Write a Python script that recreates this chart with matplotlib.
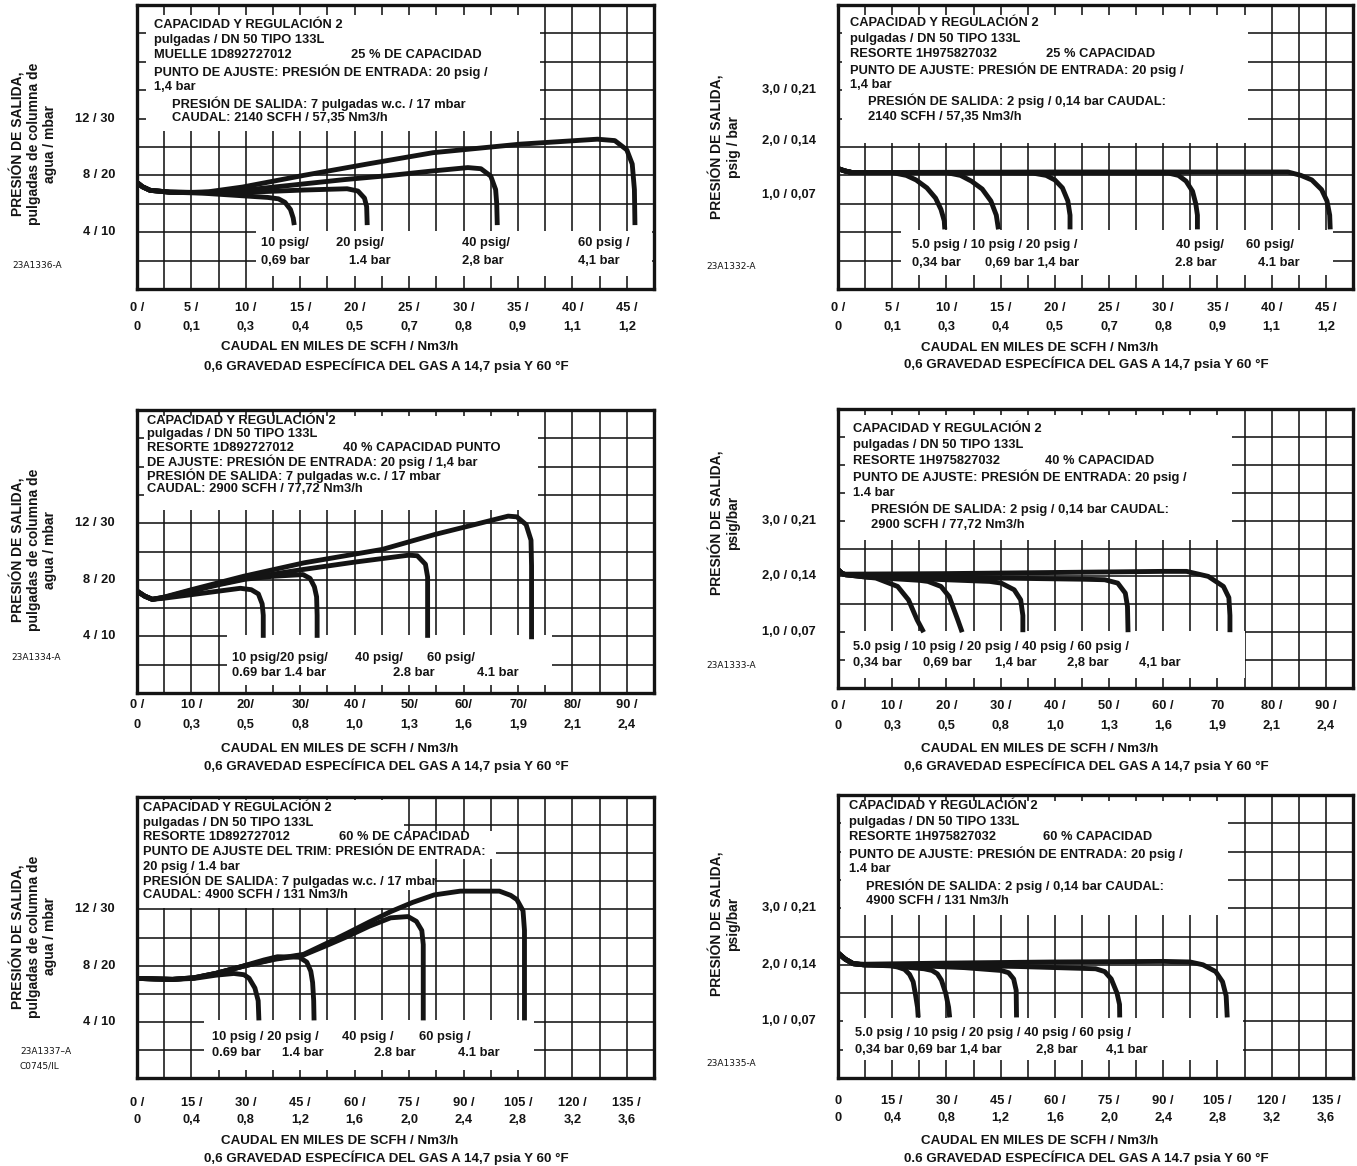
import numpy as np
import matplotlib
matplotlib.use('Agg')
import matplotlib.pyplot as plt
from matplotlib.patches import Rectangle

plt.rcParams['font.family'] = ['Liberation Sans', 'DejaVu Sans']
plt.rcParams['font.weight'] = 'bold'

W, H = 1357, 1166

# ---------------- data ----------------
# x axis ticks (miles de SCFH) and labels (SCFH / Nm3/h)
x45 = [0, 5, 10, 15, 20, 25, 30, 35, 40, 45]
x45_top = ['0 /', '5 /', '10 /', '15 /', '20 /', '25 /', '30 /', '35 /', '40 /', '45 /']
x45_bot = ['0', '0,1', '0,3', '0,4', '0,5', '0,7', '0,8', '0,9', '1,1', '1,2']

x90 = [0, 10, 20, 30, 40, 50, 60, 70, 80, 90]
x90_top_l = ['0 /', '10 /', '20/', '30/', '40 /', '50/', '60/', '70/', '80/', '90 /']
x90_top_r = ['0 /', '10 /', '20 /', '30 /', '40 /', '50 /', '60 /', '70', '80 /', '90 /']
x90_bot = ['0', '0,3', '0,5', '0,8', '1,0', '1,3', '1,6', '1,9', '2,1', '2,4']

x135 = [0, 15, 30, 45, 60, 75, 90, 105, 120, 135]
x135_top_l = ['0 /', '15 /', '30 /', '45 /', '60 /', '75 /', '90 /', '105 /', '120 /', '135 /']
x135_top_r = ['0', '15 /', '30 /', '45 /', '60 /', '75 /', '90 /', '105 /', '120 /', '135 /']
x135_bot = ['0', '0,4', '0,8', '1,2', '1,6', '2,0', '2,4', '2,8', '3,2', '3,6']

# y axis ticks
y_wc = [12, 8, 4]
y_wc_lab = ['12 / 30', '8 / 20', '4 / 10']
y_psig = [3, 2, 1]
y_psig_p2 = [3.5, 2.6, 1.65]   # labels sit off the grid in the original
y_psig_lab = ['3,0 / 0,21', '2,0 / 0,14', '1,0 / 0,07']

# curves, panel 1 (25 %, 7 in w.c.)
p1_10 = [(0, 7.5), (0.5, 7.2), (1.2, 6.95), (3, 6.82), (6, 6.75), (9, 6.6), (12, 6.45), (13, 6.35),
         (13.6, 6.1), (14.1, 5.6), (14.35, 5.0), (14.45, 4.5)]
p1_20 = [(0, 7.5), (0.5, 7.2), (1.2, 6.95), (3, 6.82), (6, 6.78), (9, 6.78), (12, 6.87), (15.3, 6.97),
         (19.3, 7.06), (20.3, 6.9), (20.9, 6.4), (21.1, 5.8), (21.15, 4.5)]
p1_40 = [(0, 7.5), (0.5, 7.2), (1.2, 6.95), (3, 6.82), (6, 6.8), (8.1, 6.85), (11, 7.05), (15.3, 7.4),
         (19, 7.7), (23.3, 8.0), (27, 8.3), (30.4, 8.55), (31.6, 8.47), (32.5, 7.95), (32.95, 7.0),
         (33.05, 6.0), (33.1, 4.5)]
p1_60 = [(0, 7.5), (0.5, 7.2), (1.2, 6.95), (3, 6.82), (5, 6.8), (6.6, 6.85), (9.7, 7.18), (15.3, 8.0),
         (21.3, 8.82), (27.2, 9.6), (35.2, 10.2), (42.3, 10.55), (43.9, 10.45), (45.0, 9.8),
         (45.5, 8.8), (45.7, 7.0), (45.75, 4.5)]

# panel 2 (25 %, 2 psig)
p2_5 = [(0, 2.12), (0.6, 2.08), (1.3, 2.05), (3, 2.05), (5, 2.05), (6.3, 2.0), (7.2, 1.92), (8.2, 1.78),
        (9.0, 1.6), (9.5, 1.4), (9.8, 1.2), (9.85, 1.05)]
p2_10 = [(0, 2.12), (0.6, 2.08), (1.3, 2.05), (5, 2.05), (10, 2.05), (11.3, 2.0), (12.3, 1.9), (13.3, 1.76),
         (14.1, 1.55), (14.6, 1.3), (14.8, 1.05)]
p2_20 = [(0, 2.12), (0.6, 2.08), (1.3, 2.05), (10, 2.05), (18, 2.04), (19.2, 2.0), (20.0, 1.92),
         (20.7, 1.78), (21.2, 1.55), (21.4, 1.3), (21.4, 1.05)]
p2_40 = [(0, 2.12), (0.6, 2.08), (1.3, 2.05), (15, 2.05), (30.5, 2.04), (31.4, 2.0), (32.1, 1.9),
         (32.7, 1.72), (33.0, 1.5), (33.15, 1.3), (33.15, 1.05)]
p2_60 = [(0, 2.12), (0.6, 2.08), (1.3, 2.05), (20, 2.06), (41.5, 2.06), (42.7, 2.0), (43.7, 1.92),
         (44.6, 1.75), (45.1, 1.55), (45.35, 1.3), (45.4, 1.05)]

# panel 3 (40 %, 7 in w.c.)
p3_10 = [(0, 7.2), (1.4, 6.85), (2.8, 6.62), (5, 6.7), (9, 6.9), (14, 7.15), (19, 7.4), (21, 7.3),
         (22.3, 7.0), (23.0, 6.3), (23.2, 5.5), (23.2, 3.9)]
p3_20 = [(0, 7.2), (1.4, 6.85), (2.8, 6.62), (5, 6.75), (10, 7.2), (15, 7.65), (20, 8.05), (25, 8.25),
         (30.5, 8.37), (31.8, 8.1), (32.6, 7.5), (33.0, 6.8), (33.1, 5.5), (33.1, 3.9)]
p3_40 = [(0, 7.2), (1.4, 6.85), (2.8, 6.62), (5, 6.75), (10, 7.25), (15, 7.7), (20, 8.1), (30, 8.7),
         (40, 9.25), (49.9, 9.74), (51.5, 9.7), (53.0, 9.1), (53.4, 8.2), (53.4, 3.9)]
p3_60 = [(0, 7.2), (1.4, 6.85), (2.8, 6.62), (5, 6.78), (10, 7.3), (19.6, 8.25), (30.7, 9.2),
         (45.1, 10.15), (54.7, 11.2), (62, 11.9), (68.2, 12.5), (69.8, 12.45), (71.5, 11.9),
         (72.4, 10.8), (72.5, 9.0), (72.5, 3.8)]

# panel 4 (40 %, 2 psig)
p4_5 = [(0, 2.12), (0.8, 2.05), (1.4, 2.03), (4, 2.0), (7, 1.97), (8.6, 1.91), (11, 1.82), (13, 1.58),
        (14.6, 1.22), (15.8, 1.0)]
p4_10 = [(0, 2.12), (0.8, 2.05), (1.4, 2.03), (5, 1.99), (10, 1.96), (15, 1.93), (16.6, 1.91), (19, 1.82),
         (20.5, 1.64), (22.1, 1.22), (22.9, 1.0)]
p4_20 = [(0, 2.12), (0.8, 2.05), (1.4, 2.03), (10, 1.98), (20, 1.94), (28, 1.91), (30.1, 1.88),
         (32.5, 1.76), (33.7, 1.58), (34.1, 1.3), (34.1, 1.0)]
p4_40 = [(0, 2.12), (0.8, 2.05), (1.4, 2.03), (15, 2.0), (30, 1.97), (45, 1.95), (49.2, 1.94),
         (51.6, 1.88), (53.0, 1.7), (53.4, 1.46), (53.5, 1.0)]
p4_60 = [(0, 2.12), (0.8, 2.05), (1.4, 2.04), (20, 2.05), (40, 2.07), (60, 2.09), (64.3, 2.09),
         (68.3, 2.0), (71.1, 1.82), (72.1, 1.62), (72.3, 1.3), (72.3, 1.0)]

# panel 5 (60 %, 7 in w.c.)
p5_10 = [(0, 7.09), (5, 7.05), (9.8, 7.02), (15.8, 7.09), (21.8, 7.32), (26.7, 7.44), (29.5, 7.35),
         (30.9, 7.1), (32.5, 6.4), (33.4, 5.5), (33.6, 4.1)]
p5_20 = [(0, 7.09), (5, 7.05), (9.8, 7.02), (15.8, 7.12), (21.8, 7.45), (29, 7.95), (35, 8.4),
         (38.7, 8.63), (44.7, 8.6), (46.8, 8.25), (47.9, 7.6), (48.4, 6.8), (48.7, 5.5), (48.8, 4.1)]
p5_40 = [(0, 7.09), (5, 7.05), (9.8, 7.02), (15.8, 7.14), (21.8, 7.45), (30, 8.0), (38, 8.45),
         (45.9, 8.75), (52, 9.4), (57.9, 10.06), (64, 10.8), (69.9, 11.4), (74.7, 11.49), (77.0, 11.15),
         (78.5, 10.5), (78.9, 9.5), (78.9, 4.1)]
p5_60 = [(0, 7.09), (5, 7.05), (9.8, 7.02), (15.8, 7.14), (21.8, 7.45), (30, 8.0), (38, 8.48),
         (45.9, 8.8), (52, 9.55), (57.9, 10.3), (64, 11.1), (69.9, 11.84), (76, 12.5), (81.9, 13.03),
         (89.1, 13.3), (99.9, 13.3), (103, 13.0), (104.7, 12.7), (106.4, 11.9), (106.8, 10.5),
         (106.8, 4.1)]

# panel 6 (60 %, 2 psig)
p6_5 = [(0, 2.21), (2, 2.1), (4.2, 2.02), (7.1, 2.0), (14.3, 1.99), (16.5, 1.96), (18.4, 1.92),
        (19.8, 1.83), (20.8, 1.7), (21.5, 1.45), (22.0, 1.25), (22.2, 1.07)]
p6_10 = [(0, 2.21), (2, 2.1), (4.2, 2.02), (7.1, 2.0), (15, 1.98), (23.8, 1.93), (26, 1.9), (27.5, 1.84),
         (28.6, 1.73), (29.8, 1.5), (30.6, 1.25), (30.9, 1.07)]
p6_20 = [(0, 2.21), (2, 2.1), (4.2, 2.02), (7.1, 2.0), (20, 1.99), (35, 1.95), (45.1, 1.9), (47.2, 1.86),
         (48.6, 1.75), (49.3, 1.55), (49.4, 1.07)]
p6_40 = [(0, 2.21), (2, 2.1), (4.2, 2.02), (7.1, 2.0), (25, 2.0), (50, 1.97), (71.3, 1.93), (73.8, 1.88),
         (75.6, 1.75), (77.2, 1.5), (77.9, 1.3), (77.95, 1.07)]
p6_60 = [(0, 2.21), (2, 2.1), (4.2, 2.02), (7.1, 2.01), (30, 2.03), (60, 2.05), (90, 2.06), (97.4, 2.05),
         (101, 2.0), (104.5, 1.88), (106.4, 1.7), (107.4, 1.45), (107.7, 1.07)]

YT_WC = 'PRESIÓN DE SALIDA,\npulgadas de columna de\nagua / mbar'
XT1 = 'CAUDAL EN MILES DE SCFH / Nm3/h'
XT2 = '0,6 GRAVEDAD ESPECÍFICA DEL GAS A 14,7 psia Y 60 °F'

# ---------------- layout of each panel ----------------
panels = [
    dict(frame=(137, 5, 654, 289), xmax=47.5, ymax=20,
         xt=x45, xtop=x45_top, xbot=x45_bot, xoff=(19, 38),
         yt=y_wc, ylab=y_wc_lab, ytitle=YT_WC, ytpos=(-0.201, 0.51),
         xtitle=(XT1, XT2, -0.203, -0.27),
         codes=[('23A1336-A', 12, 266)],
         boxes=[(0.8, 37.0, 11.1, 19.3), (10.9, 47.3, 0.95, 4.1)],
         curves=[p1_10, p1_20, p1_40, p1_60],
         text=[(1.6, 18.59, 'CAPACIDAD Y REGULACIÓN 2'), (1.6, 17.54, 'pulgadas / DN 50 TIPO 133L'),
               (1.6, 16.48, 'MUELLE 1D892727012'), (19.7, 16.48, '25 % DE CAPACIDAD'),
               (1.6, 15.3, 'PUNTO DE AJUSTE: PRESIÓN DE ENTRADA: 20 psig /'), (1.6, 14.2, '1,4 bar'),
               (3.2, 13.08, 'PRESIÓN DE SALIDA: 7 pulgadas w.c. / 17 mbar'),
               (3.2, 12.02, 'CAUDAL: 2140 SCFH / 57,35 Nm3/h'),
               (11.4, 3.22, '10 psig/'), (11.4, 1.97, '0,69 bar'), (18.3, 3.22, '20 psig/'),
               (19.5, 1.97, '1.4 bar'), (29.9, 3.22, '40 psig/'), (29.9, 1.97, '2,8 bar'),
               (40.5, 3.22, '60 psig /'), (40.5, 1.97, '4,1 bar')]),
    dict(frame=(838, 5, 1353, 289), xmax=47.5, ymax=5,
         xt=x45, xtop=x45_top, xbot=x45_bot, xoff=(19, 38),
         yt=y_psig_p2, ylab=y_psig_lab, ytitle='PRESIÓN DE SALIDA,\npsig / bar', ytpos=(-0.22, 0.5),
         xtitle=(XT1, XT2, -0.209, -0.264),
         codes=[('23A1332-A', 706, 267)],
         boxes=[(0.4, 37.8, 2.57, 4.82), (5.8, 45.7, 0.25, 1.04)],
         curves=[p2_5, p2_10, p2_20, p2_40, p2_60],
         text=[(1.15, 4.69, 'CAPACIDAD Y REGULACIÓN 2'), (1.15, 4.41, 'pulgadas / DN 50 TIPO 133L'),
               (1.15, 4.14, 'RESORTE 1H975827032'), (19.15, 4.14, '25 % CAPACIDAD'),
               (1.15, 3.86, 'PUNTO DE AJUSTE: PRESIÓN DE ENTRADA: 20 psig /'), (1.15, 3.59, '1,4 bar'),
               (2.75, 3.32, 'PRESIÓN DE SALIDA: 2 psig / 0,14 bar CAUDAL:'),
               (2.75, 3.03, '2140 SCFH / 57,35 Nm3/h'),
               (6.84, 0.77, '5.0 psig / 10 psig / 20 psig /'), (6.84, 0.46, '0,34 bar'),
               (13.6, 0.46, '0,69 bar 1,4 bar'), (31.2, 0.77, '40 psig/'), (31.1, 0.46, '2.8 bar'),
               (37.6, 0.77, '60 psig/'), (38.7, 0.46, '4.1 bar')]),
    dict(frame=(137, 410, 654, 693), xmax=95, ymax=20,
         xt=x90, xtop=x90_top_l, xbot=x90_bot, xoff=(12, 32),
         yt=y_wc, ylab=y_wc_lab, ytitle=YT_WC, ytpos=(-0.201, 0.507),
         xtitle=(XT1, XT2, -0.199, -0.258),
         codes=[('23A1334-A', 11, 657)],
         boxes=[(1.2, 73.6, 12.9, 19.6), (16.5, 76.3, 0.57, 4.1)],
         curves=[p3_10, p3_20, p3_40, p3_60],
         text=[(1.75, 19.24, 'CAPACIDAD Y REGULACIÓN 2'), (1.75, 18.28, 'pulgadas / DN 50 TIPO 133L'),
               (1.75, 17.29, 'RESORTE 1D892727012'), (37.9, 17.29, '40 % CAPACIDAD PUNTO'),
               (1.75, 16.35, 'DE AJUSTE: PRESIÓN DE ENTRADA: 20 psig / 1,4 bar'),
               (1.75, 15.36, 'PRESIÓN DE SALIDA: 7 pulgadas w.c. / 17 mbar'),
               (1.75, 14.4, 'CAUDAL: 2900 SCFH / 77,72 Nm3/h'),
               (17.4, 2.47, '10 psig/20 psig/'), (17.4, 1.41, '0.69 bar 1.4 bar'),
               (40.1, 2.47, '40 psig/'), (47.0, 1.41, '2.8 bar'), (53.3, 2.47, '60 psig/'),
               (62.4, 1.41, '4.1 bar')]),
    dict(frame=(838, 409, 1353, 688), xmax=95, ymax=5,
         xt=x90, xtop=x90_top_r, xbot=x90_bot, xoff=(18, 38),
         yt=y_psig, ylab=y_psig_lab, ytitle='PRESIÓN DE SALIDA,\npsig/bar', ytpos=(-0.22, 0.593),
         xtitle=(XT1, XT2, -0.22, -0.28),
         codes=[('23A1333-A', 706, 665)],
         boxes=[(1.3, 72.7, 2.65, 4.89), (1.3, 75.1, 0.18, 1.02)],
         curves=[p4_5, p4_10, p4_20, p4_40, p4_60],
         text=[(2.7, 4.64, 'CAPACIDAD Y REGULACIÓN 2'), (2.7, 4.35, 'pulgadas / DN 50 TIPO 133L'),
               (2.7, 4.07, 'RESORTE 1H975827032'), (38.2, 4.07, '40 % CAPACIDAD'),
               (2.7, 3.79, 'PUNTO DE AJUSTE: PRESIÓN DE ENTRADA: 20 psig /'), (2.7, 3.5, '1.4 bar'),
               (6.1, 3.21, 'PRESIÓN DE SALIDA: 2 psig / 0,14 bar CAUDAL:'),
               (6.1, 2.93, '2900 SCFH / 77,72 Nm3/h'),
               (2.8, 0.73, '5.0 psig / 10 psig / 20 psig / 40 psig / 60 psig /'), (2.8, 0.45, '0,34 bar'),
               (15.7, 0.45, '0,69 bar'), (29.0, 0.45, '1,4 bar'), (42.3, 0.45, '2,8 bar'),
               (55.5, 0.45, '4,1 bar')]),
    dict(frame=(137, 797, 654, 1078), xmax=142.5, ymax=20,
         xt=x135, xtop=x135_top_l, xbot=x135_bot, xoff=(25, 42),
         yt=y_wc, ylab=y_wc_lab, ytitle=YT_WC, ytpos=(-0.201, 0.504),
         xtitle=(XT1, XT2, -0.224, -0.284),
         codes=[('23A1337–A', 20, 1052), ('C0745/IL', 20, 1066)],
         boxes=[(0.4, 73.5, 12.1, 19.8), (73.5, 99, 15.6, 17.6), (73.5, 82, 13.4, 15.6),
                (18.4, 109.3, 0.6, 4.13)],
         curves=[p5_10, p5_20, p5_40, p5_60],
         text=[(1.65, 19.19, 'CAPACIDAD Y REGULACIÓN 2'), (1.65, 18.17, 'pulgadas / DN 50 TIPO 133L'),
               (1.65, 17.17, 'RESORTE 1D892727012'), (55.6, 17.17, '60 % DE CAPACIDAD'),
               (1.65, 16.11, 'PUNTO DE AJUSTE DEL TRIM: PRESIÓN DE ENTRADA:'),
               (1.65, 15.04, '20 psig / 1.4 bar'),
               (1.65, 14.02, 'PRESIÓN DE SALIDA: 7 pulgadas w.c. / 17 mbar'),
               (1.65, 13.02, 'CAUDAL: 4900 SCFH / 131 Nm3/h'),
               (20.6, 2.92, '10 psig / 20 psig /'), (20.6, 1.78, '0.69 bar'), (40.1, 1.78, '1.4 bar'),
               (56.6, 2.92, '40 psig /'), (65.3, 1.78, '2.8 bar'), (77.7, 2.92, '60 psig /'),
               (88.4, 1.78, '4.1 bar')]),
    dict(frame=(838, 795, 1353, 1078), xmax=142.5, ymax=5,
         xt=x135, xtop=x135_top_r, xbot=x135_bot, xoff=(23, 40),
         yt=y_psig, ylab=y_psig_lab, ytitle='PRESIÓN DE SALIDA,\npsig/bar', ytpos=(-0.22, 0.546),
         xtitle=(XT1, XT2.replace('0,6', '0.6').replace('14,7', '14.7'), -0.223, -0.282),
         codes=[('23A1335-A', 706, 1063)],
         boxes=[(0.8, 108, 2.88, 4.9), (1.4, 112.2, 0.32, 1.06)],
         curves=[p6_5, p6_10, p6_20, p6_40, p6_60],
         text=[(2.96, 4.8, 'CAPACIDAD Y REGULACIÓN 2'), (2.96, 4.53, 'pulgadas / DN 50 TIPO 133L'),
               (2.96, 4.25, 'RESORTE 1H975827032'), (56.7, 4.25, '60 % CAPACIDAD'),
               (2.96, 3.97, 'PUNTO DE AJUSTE: PRESIÓN DE ENTRADA: 20 psig /'), (2.96, 3.69, '1.4 bar'),
               (7.8, 3.39, 'PRESIÓN DE SALIDA: 2 psig / 0,14 bar CAUDAL:'),
               (7.8, 3.13, '4900 SCFH / 131 Nm3/h'),
               (4.7, 0.8, '5.0 psig / 10 psig / 20 psig / 40 psig / 60 psig /'),
               (4.7, 0.49, '0,34 bar 0,69 bar 1,4 bar'), (54.8, 0.49, '2,8 bar'), (74.2, 0.49, '4,1 bar')]),
]

FS = 9.3
INK = '#141414'
fig = plt.figure(figsize=(W / 100, H / 100), dpi=100)

for p in panels:
    x0, y0, x1, y1 = p['frame']
    wpx, hpx = x1 - x0, y1 - y0
    ax = fig.add_axes([x0 / W, 1 - y1 / H, wpx / W, hpx / H])
    xmax, ymax = p['xmax'], p['ymax']
    ax.set_xlim(0, xmax)
    ax.set_ylim(0, ymax)
    ax.set_xticks([])
    ax.set_yticks([])
    for s in ax.spines.values():
        s.set_linewidth(2.4)
        s.set_color(INK)
        s.set_zorder(6)

    # 19 x 10 grid
    ax.vlines(np.linspace(0, xmax, 20)[1:-1], 0, ymax, color=INK, lw=1.15, zorder=1)
    ax.hlines(np.linspace(0, ymax, 11)[1:-1], 0, xmax, color=INK, lw=1.15, zorder=1)

    # white panels for the notes
    for bx in p['boxes']:
        ax.add_patch(Rectangle((bx[0], bx[2]), bx[1] - bx[0], bx[3] - bx[2],
                               fc='white', ec='none', zorder=2))

    for pts in p['curves']:
        xs, ys = zip(*pts)
        ax.plot(xs, ys, color=INK, lw=3.5, solid_joinstyle='round',
                solid_capstyle='butt', zorder=3)

    for tx, ty, s in p['text']:
        ax.text(tx, ty, s, fontsize=FS, ha='left', va='center', zorder=5, color=INK)

    # x tick labels (two lines each)
    xtr = ax.get_xaxis_transform()
    for v, a, b in zip(p['xt'], p['xtop'], p['xbot']):
        ax.text(v, -p['xoff'][0] / hpx, a, transform=xtr, fontsize=FS, ha='center', va='center', color=INK)
        ax.text(v, -p['xoff'][1] / hpx, b, transform=xtr, fontsize=FS, ha='center', va='center', color=INK)

    ytr = ax.get_yaxis_transform()
    for v, s in zip(p['yt'], p['ylab']):
        ax.text(-22 / wpx, v, s, transform=ytr, fontsize=FS, ha='right', va='center', color=INK)

    ax.text(p['ytpos'][0], p['ytpos'][1], p['ytitle'], transform=ax.transAxes, rotation=90,
            fontsize=10, ha='center', va='center', multialignment='center', linespacing=1.15,
            color=INK)

    t1, t2, ya, yb = p['xtitle']
    ax.text(0.162, ya, t1, transform=ax.transAxes, fontsize=9.6, ha='left', va='center', color=INK)
    ax.text(0.129, yb, t2, transform=ax.transAxes, fontsize=9.6, ha='left', va='center', color=INK)

    for s, cx, cy in p['codes']:
        fig.text(cx / W, 1 - cy / H, s, fontsize=6.5, ha='left', va='center', fontweight='normal',
                 family=['Liberation Sans Narrow', 'DejaVu Sans'], color=INK)

fig.savefig('out.png', dpi=100)
